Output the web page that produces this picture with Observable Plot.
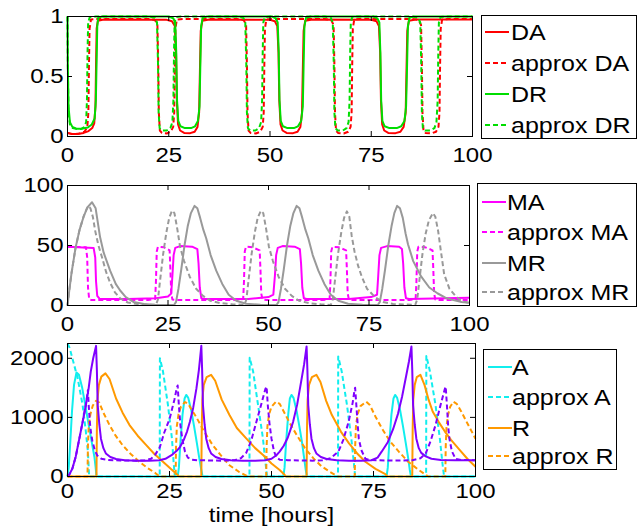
<!DOCTYPE html>
<html><head><meta charset="utf-8">
<script src="https://cdn.jsdelivr.net/npm/d3@7"></script>
<script src="https://cdn.jsdelivr.net/npm/@observablehq/plot@0.6"></script>
<style>
body{margin:0;background:#fff;}
#wrap{position:relative;width:638px;height:527px;overflow:hidden;background:#fff;font-family:"Liberation Sans",Arial,Helvetica,sans-serif;}
.panel{position:absolute;left:0;}
.legend{position:absolute;border:1px solid #000;background:#fff;box-sizing:border-box;}
.item{position:absolute;white-space:nowrap;font-size:25px;line-height:30px;height:30px;color:#000;}
.item span{display:inline-block;transform:scaleY(0.86);transform-origin:50% 50%;}
.sw{position:absolute;height:2px;width:24px;}
</style></head><body><div id="wrap"></div>
<script>
// ---------- tick labels ----------
const xTicks = [0,25,50,75,100];
const dTicks = [0,0.5,1];
const mTicks = [0,50,100];
const pTicks = [0,1000,2000];

// ---------- legend labels ----------
const legend1 = ["DA","approx DA","DR","approx DR"];
const legend2 = ["MA","approx MA","MR","approx MR"];
const legend3 = ["A","approx A","R","approx R"];

// ---------- panel 1 : DA, DR ----------
const DA = [[0,0.03],[1,0.02],[2.5,0.02],[4,0.03],[5.2,0.045],[6.1,0.07],[6.6,0.11],[6.9,0.25],[7.05,0.6],[7.2,0.9],[7.5,0.965],[9,0.975],
[24.5,0.972],[25.8,0.96],[26.5,0.92],[26.8,0.7],[27,0.3],[27.3,0.1],[27.8,0.05],[28.8,0.03],[30.3,0.028],[31.4,0.04],[32.1,0.08],[32.5,0.2],[32.7,0.55],[32.9,0.88],[33.3,0.965],[35,0.975],
[50,0.972],[51.2,0.96],[51.8,0.92],[52.1,0.7],[52.3,0.3],[52.6,0.1],[53.1,0.05],[54.1,0.03],[55.7,0.028],[56.8,0.04],[57.5,0.08],[57.9,0.2],[58.1,0.55],[58.3,0.88],[58.7,0.965],[60.5,0.975],
[75,0.972],[76.3,0.96],[76.9,0.92],[77.2,0.7],[77.4,0.3],[77.7,0.1],[78.2,0.05],[79.2,0.03],[81,0.028],[82.2,0.04],[83,0.08],[83.5,0.2],[83.7,0.55],[83.9,0.88],[84.3,0.965],[86,0.975],[100,0.975]];
const DA_approx = [[0,0.03],[1.5,0.02],[3,0.025],[4.2,0.04],[4.9,0.08],[5.15,0.2],[5.3,0.6],[5.45,0.9],[5.8,0.975],[7,0.98],
[20,0.98],[21.6,0.97],[22.2,0.93],[22.4,0.6],[22.55,0.2],[22.8,0.05],[23.3,0.03],[24.5,0.025],[25.5,0.04],[26.1,0.08],[26.35,0.2],[26.5,0.6],[26.65,0.9],[27,0.975],[28.5,0.98],
[41.8,0.98],[43.5,0.97],[44.1,0.93],[44.3,0.6],[44.45,0.2],[44.7,0.05],[45.2,0.03],[46.5,0.025],[47.6,0.04],[48.2,0.08],[48.45,0.2],[48.6,0.6],[48.75,0.9],[49.1,0.975],[50.5,0.98],
[63.5,0.98],[65.1,0.97],[65.7,0.93],[65.9,0.6],[66.05,0.2],[66.3,0.05],[66.8,0.03],[68.2,0.025],[69.3,0.04],[69.9,0.08],[70.15,0.2],[70.3,0.6],[70.45,0.9],[70.8,0.975],[72,0.98],
[85,0.98],[86.7,0.97],[87.3,0.93],[87.5,0.6],[87.65,0.2],[87.9,0.05],[88.4,0.03],[89.8,0.025],[91,0.04],[91.6,0.08],[91.85,0.2],[92,0.6],[92.15,0.9],[92.5,0.975],[94,0.98],[100,0.98]];
const DR = [[0,1],[0.08,0.6],[0.25,0.25],[0.6,0.12],[1.2,0.08],[2.2,0.065],[3.5,0.065],[5,0.075],[6,0.1],[6.7,0.15],[7,0.3],[7.2,0.65],[7.35,0.92],[7.6,0.99],[8.5,1],
[25,1],[26.1,0.985],[26.6,0.95],[26.85,0.7],[27.05,0.3],[27.35,0.13],[27.9,0.085],[29,0.07],[30.5,0.07],[31.5,0.085],[32.2,0.13],[32.6,0.25],[32.8,0.6],[33,0.92],[33.4,0.99],[34.5,1],
[50.5,1],[51.4,0.985],[51.9,0.95],[52.15,0.7],[52.35,0.3],[52.65,0.13],[53.2,0.085],[54.3,0.07],[55.9,0.07],[56.9,0.085],[57.7,0.13],[58.1,0.25],[58.3,0.6],[58.5,0.92],[58.9,0.99],[60,1],
[75.5,1],[76.5,0.985],[77,0.95],[77.25,0.7],[77.45,0.3],[77.75,0.13],[78.3,0.085],[79.5,0.07],[81.3,0.07],[82.4,0.085],[83.2,0.13],[83.6,0.25],[83.85,0.6],[84.05,0.92],[84.45,0.99],[85.5,1],[100,1]];
const DR_approx = [[0,1],[0.08,0.6],[0.25,0.2],[0.6,0.1],[1.3,0.07],[2.5,0.06],[3.5,0.065],[4.2,0.08],[4.6,0.12],[4.8,0.3],[4.95,0.7],[5.1,0.95],[5.5,0.995],[7,1],
[20,1],[21.6,0.99],[22.1,0.95],[22.35,0.6],[22.5,0.2],[22.75,0.07],[23.3,0.05],[24.5,0.05],[25.4,0.07],[25.9,0.12],[26.15,0.3],[26.3,0.7],[26.45,0.95],[26.8,0.995],[28,1],
[41.8,1],[43.4,0.99],[43.9,0.95],[44.15,0.6],[44.3,0.2],[44.55,0.07],[45.1,0.05],[46.4,0.05],[47.3,0.07],[47.8,0.12],[48.05,0.3],[48.2,0.7],[48.35,0.95],[48.7,0.995],[50,1],
[63.5,1],[65,0.99],[65.5,0.95],[65.75,0.6],[65.9,0.2],[66.15,0.07],[66.7,0.05],[68,0.05],[68.9,0.07],[69.4,0.12],[69.65,0.3],[69.8,0.7],[69.95,0.95],[70.3,0.995],[71.5,1],
[85,1],[86.6,0.99],[87.1,0.95],[87.35,0.6],[87.5,0.2],[87.75,0.07],[88.3,0.05],[89.6,0.05],[90.6,0.07],[91.1,0.12],[91.4,0.3],[91.55,0.7],[91.7,0.95],[92.1,0.995],[93.5,1],[100,1]];

// ---------- panel 2 : MA, MR ----------
const MA = [[0,49],[6.5,48],[6.9,40],[7.1,20],[7.4,8],[8,5.5],[15,5.5],[22,6],[25,7.5],[25.8,10],[26.1,25],[26.4,42],[26.8,48],[28,49.5],[31,49],[32.3,47],[32.6,35],[32.9,15],[33.3,6],[34,5.5],
[45,5.5],[50,7],[51.2,9],[51.6,25],[51.9,42],[52.3,48],[53.5,49.5],[56.5,49],[57.8,47],[58.1,35],[58.4,15],[58.8,6],[59.5,5.5],
[70,5.5],[75.5,7],[77,9],[77.3,25],[77.6,42],[78,48],[79.5,49.5],[82.5,49],[83.2,47],[83.5,35],[83.8,15],[84.2,6],[85,5.5],[100,6.5]];
const MA_approx = [[0,49],[4.6,48.5],[4.9,40],[5.1,15],[5.4,5],[6,4.5],[20,4.5],[21.8,5.5],[22,20],[22.2,45],[22.5,49],[24,48.5],[25.4,46],[25.6,30],[25.8,10],[26.1,5],[27,4.5],
[42,4.5],[43.7,5.5],[43.9,20],[44.1,45],[44.4,49],[46,48.5],[47.8,46],[48,30],[48.2,10],[48.5,5],[49.5,4.5],
[63.5,4.5],[65.2,5.5],[65.4,20],[65.6,45],[65.9,49],[67.5,48.5],[69.3,46],[69.5,30],[69.7,10],[70,5],[71,4.5],
[85,4.5],[86.6,5.5],[86.8,20],[87,45],[87.3,49],[89,48.5],[90.8,46],[91,30],[91.2,10],[91.5,5],[92.5,4.5],[100,4.5]];
const MR = [[0,0],[0.5,14],[1,27],[2,48],[3,63],[4,74],[5,82],[6.1,86],[7,81],[8.1,57],[9,44],[10.6,29],[12,18],[13.1,12.5],[14.5,7],[16.4,3],[19,1.2],[22,0.5],[26.5,0.4],
[27,3],[27.6,14],[28.3,30],[29.1,50],[29.9,66],[30.7,77],[31.6,83],[32.3,81],[33,73],[33.8,63],[34.5,56],[35.6,42],[37,29],[38.5,18],[40.1,9],[42,4],[44.4,1.5],[48,0.6],[52,0.4],
[52.5,3],[53.1,14],[53.8,30],[54.6,50],[55.4,66],[56.2,77],[57,83],[57.7,81],[58.4,73],[59.2,63],[59.9,56],[61,42],[62.4,29],[63.9,18],[65.5,9],[67.4,4],[69.8,1.5],[73.4,0.6],[77.2,0.4],
[77.7,3],[78.3,14],[79,30],[79.8,50],[80.6,66],[81.3,77],[82,83],[82.7,81],[83.4,73],[84.1,60],[84.7,51],[86,37],[88,24],[90,15],[92.1,10],[94,6.5],[96,4.5],[98,3],[100,2.2]];
const MR_approx = [[0,0],[0.5,14],[1,27],[2,48],[3,63],[4,74],[4.7,80],[5.2,83],[5.7,81],[6.3,74],[6.9,62],[7.7,50],[8.6,40],[9.6,28],[10.6,19],[11.8,11],[13.1,6],[15,2.5],[18,1],[22,0.5],
[22.5,5],[23,20],[23.8,43],[24.6,61],[25.3,73],[26,79],[26.6,77],[27.3,64],[28,49],[29,37],[30.4,24],[32,14],[33.7,8],[35.5,4],[38,2],[41,1],[44,0.5],
[44.5,5],[45,20],[45.8,43],[46.6,61],[47.3,73],[48.1,79],[48.7,77],[49.4,64],[50.1,49],[51.1,37],[52.5,24],[54.1,14],[55.8,8],[57.6,4],[60,2],[63,1],[65.5,0.5],
[66,5],[66.5,20],[67.3,43],[68.1,61],[68.8,73],[69.5,78.5],[70.1,74],[70.7,58],[71.4,45],[72.3,33],[73.2,24],[74.5,14],[76.5,7],[78.5,3],[81,1.2],[86.5,0.5],
[87,5],[87.5,20],[88.3,43],[89.1,60],[89.9,71],[90.9,77],[91.5,74],[92.2,62],[92.9,45],[93.7,26],[95,14],[96.5,8],[97.9,4],[100,2]];

// ---------- panel 3 : A, R, C ----------
const A = [[0,0],[0.3,150],[0.7,600],[1.1,1100],[1.6,1550],[2.2,1760],[2.8,1720],[3.6,1500],[4.5,1150],[5.3,830],[6,560],[6.6,330],[6.9,150],[7.1,0],
[27,0],[27.3,150],[27.7,600],[28.2,1050],[28.7,1320],[29.1,1380],[29.6,1330],[30.3,1130],[31,860],[31.7,570],[32.3,310],[32.8,110],[33.1,0],
[52.9,0],[53.2,150],[53.6,600],[54.1,1050],[54.5,1320],[54.9,1380],[55.4,1330],[56.1,1130],[56.8,860],[57.5,570],[58,310],[58.4,110],[58.7,0],
[78.2,0],[78.5,150],[78.9,600],[79.4,1050],[79.9,1320],[80.3,1380],[80.8,1330],[81.5,1130],[82.2,860],[82.9,570],[83.5,310],[83.9,110],[84.2,0],[100,0]];
const A_approx = [[0,2250],[0.5,2180],[1.2,2000],[2.5,1660],[3.7,1210],[4.5,760],[5,420],[5.2,150],[5.3,0],
[22.6,0],[22.65,2000],[23.4,1780],[24.6,1220],[25.6,640],[26,250],[26.3,0],
[44.6,0],[44.65,2010],[45.5,1775],[46.7,1210],[47.9,645],[48.5,250],[48.9,0],
[66.3,0],[66.35,2030],[67.2,1780],[68.5,1210],[69.6,620],[70.2,220],[70.5,0],
[87.9,0],[87.95,2040],[88.8,1790],[90.2,1210],[91.3,620],[91.9,220],[92.3,0],[100,0]];
const R = [[0,0],[7.1,0],[7.2,800],[7.35,1300],[7.7,1550],[8.3,1690],[9.3,1745],[10.3,1650],[11.9,1320],[13.5,1080],[15.2,870],[17.2,690],[19.3,530],[21.3,380],[23.4,250],[25.3,130],[26.8,40],[27.3,0],
[32.8,0],[32.9,800],[33.05,1300],[33.4,1550],[34.1,1680],[35.2,1720],[36.2,1620],[37.8,1300],[39.7,1040],[41.5,820],[43.8,645],[46,480],[48,360],[50,220],[52,110],[53.2,30],[53.5,0],
[58.6,0],[58.7,800],[58.85,1300],[59.2,1550],[59.9,1680],[61,1720],[62,1600],[63.4,1280],[64.8,1040],[67,760],[69,560],[71,390],[73,250],[75.5,130],[77.9,40],[78.4,0],
[84.5,0],[84.6,800],[84.75,1300],[85.1,1550],[85.6,1680],[86.5,1720],[87.5,1550],[88.5,1300],[89.5,1100],[91,920],[92.5,760],[94,620],[96,460],[98,300],[100,165]];
const R_approx = [[0,0],[4.9,0],[5,500],[5.2,850],[5.6,1050],[6.2,1200],[7,1280],[7.8,1250],[8.8,1080],[10.3,870],[11.8,690],[13.5,530],[15.5,380],[17.6,250],[19.7,140],[21.5,60],[22.6,0],
[26.5,0],[26.6,500],[26.8,850],[27.2,1050],[27.8,1180],[28.8,1260],[29.6,1230],[30.5,1120],[31.6,1000],[33.5,760],[35.6,530],[37.7,350],[39.7,190],[42,80],[44.3,0],
[48.7,0],[48.8,500],[49,850],[49.4,1050],[50,1180],[51.1,1265],[52,1230],[53,1100],[54.5,900],[56.2,700],[58.2,480],[60.3,305],[62.3,170],[64.4,75],[66.3,0],
[70.4,0],[70.5,500],[70.7,850],[71.1,1050],[71.8,1190],[73.2,1265],[74.1,1210],[75.5,1010],[77.1,810],[79,600],[81.2,420],[83.5,250],[86.1,110],[88,20],[88.4,0],
[92.6,0],[92.7,500],[92.9,850],[93.3,1050],[93.8,1180],[94.6,1265],[95.4,1230],[96.5,1100],[98,900],[100,640]];
const C = [[0,0],[0.5,40],[1.2,135],[2,330],[2.9,640],[3.7,920],[4.5,1210],[5.2,1500],[5.7,1775],[6.3,2000],[7,2210],[7.2,1800],[7.4,1210],[7.8,880],[8.2,640],[8.8,480],[9.4,390],[10.5,330],[11.9,295],[14,275],[17,265],[20,265],[22.5,275],[24,300],[25.5,360],[26.7,430],[27.5,490],[28.5,620],[29.3,760],[30,925],[30.8,1160],[31.6,1490],[32.2,1800],[32.8,2210],
[33,1800],[33.2,1210],[33.6,880],[34,640],[34.6,480],[35.2,390],[36.3,330],[37.7,295],[40,275],[43,265],[46,265],[48.5,275],[50,300],[51.2,360],[52,420],[53,520],[54,660],[55.3,925],[56.3,1220],[57.4,1660],[58,1900],[58.6,2200],
[58.8,1800],[59,1210],[59.4,880],[59.8,640],[60.4,480],[61,390],[62.1,330],[63.5,295],[66,275],[69,265],[72,265],[74.5,275],[76,320],[77,420],[78.5,580],[79.8,800],[81,1060],[82,1350],[83,1700],[83.7,1950],[84.3,2200],
[84.5,1800],[84.7,1210],[85.1,880],[85.5,640],[86.1,480],[86.7,400],[87.8,340],[89.2,300],[91.5,280],[95,275],[100,275]];
const C_approx = [[0,0],[0.5,40],[1.2,135],[2,330],[2.9,640],[3.7,920],[4.5,1210],[5,1460],[5.2,1200],[5.5,900],[5.8,720],[6.1,600],[6.7,440],[7.3,355],[8.3,300],[10,280],[13,270],[17,268],[19,275],[20.5,300],[21.5,370],[22.6,490],[23.7,740],[25,970],[26.2,1300],[26.8,1500],[27,1540],[27.3,1200],[27.7,850],[28.2,610],[28.8,420],[29.5,320],[30.5,285],[32,275],[38,268],
[41,275],[42.5,310],[43.8,400],[45,600],[46.3,925],[47.6,1250],[48.5,1480],[48.8,1520],[49.1,1200],[49.5,900],[50,640],[50.6,430],[51.2,320],[52,285],[54,275],[60,268],
[62.5,275],[64.5,310],[66.4,420],[67.6,620],[68.9,925],[69.9,1250],[70.3,1440],[70.5,1500],[70.8,1200],[71.1,900],[71.4,640],[72,450],[73,300],[74,280],[80,268],
[84.5,275],[86.5,310],[87.8,390],[89,600],[90.2,870],[91.4,1200],[92.4,1460],[92.7,1520],[93,1200],[93.3,850],[93.6,640],[94.2,430],[95.1,300],[96.5,280],[100,275]];

// ---------- colours ----------
const red = "#ff0000", green = "#00dd00", magenta = "#ff00ff", gray = "#999999",
      cyan = "#11eeee", orange = "#ff9900", purple = "#8000ff";

const FONT = '"Liberation Sans", Arial, Helvetica, sans-serif';
const wrap = document.getElementById("wrap");

function makePanel({series, yDomain, yTicks, top, height, mTop, mBottom, mRight, xPad, extra = []}) {
  const W = 638, mLeft = 67;
  const frameH = height - mTop - mBottom;
  const frameW = W - mLeft - mRight;
  const lineMarks = series.map(s => {
    const o = {x: d => d[0], y: d => d[1], stroke: s.color, strokeWidth: 2, strokeLinecap: "butt", strokeLinejoin: "round"};
    if (s.dash) o.strokeDasharray = "5,3";
    return Plot.line(s.data, o);
  });
  const svg = Plot.plot({
    width: W, height, marginLeft: mLeft, marginRight: mRight, marginTop: mTop, marginBottom: mBottom,
    x: {domain: [0, 100]},
    y: {domain: yDomain},
    style: {fontSize: "24px", fontFamily: FONT, color: "#000", background: "transparent", overflow: "visible"},
    marks: [
      ...lineMarks,
      Plot.frame({stroke: "#000", strokeWidth: 1}),
      Plot.tickX(xTicks, {x: d => d, insetTop: frameH - 5, stroke: "#000"}),
      Plot.tickX(xTicks, {x: d => d, insetBottom: frameH - 5, stroke: "#000"}),
      Plot.tickY(yTicks, {y: d => d, insetRight: frameW - 5, stroke: "#000"}),
      Plot.tickY(yTicks, {y: d => d, insetLeft: frameW - 5, stroke: "#000"}),
      Plot.axisX({ticks: xTicks, tickSize: 0, tickPadding: xPad, label: null, tickFormat: d => String(d)}),
      Plot.axisY({ticks: yTicks, tickSize: 0, tickPadding: 4, label: null, tickFormat: d => String(d)}),
      ...extra
    ]
  });
  // slightly flatten text glyphs as in the reference rendering
  svg.querySelectorAll("text").forEach(t => {
    const tr = t.getAttribute("transform");
    if (tr && tr.includes("translate")) t.setAttribute("transform", tr + " scale(1,0.86)");
  });
  const div = document.createElement("div");
  div.className = "panel";
  div.style.top = top + "px";
  div.appendChild(svg);
  wrap.appendChild(div);
}

function makeLegend({labels, colors, dashes, left, top, width, height, rows, swX, txX}) {
  const box = document.createElement("div");
  box.className = "legend";
  Object.assign(box.style, {left: left + "px", top: top + "px", width: width + "px", height: height + "px"});
  wrap.appendChild(box);
  labels.forEach((lab, i) => {
    const cy = rows[i];
    const sw = document.createElement("div");
    sw.className = "sw";
    sw.style.left = swX + "px";
    sw.style.top = (cy - 1) + "px";
    sw.style.background = dashes[i]
      ? `repeating-linear-gradient(90deg, ${colors[i]} 0 5px, transparent 5px 8px)`
      : colors[i];
    wrap.appendChild(sw);
    const it = document.createElement("div");
    it.className = "item";
    it.style.left = txX + "px";
    it.style.top = (cy - 15) + "px";
    const sp = document.createElement("span");
    sp.textContent = lab;
    it.appendChild(sp);
    wrap.appendChild(it);
  });
}

// panel 1
makePanel({
  series: [
    {data: DA, color: red}, {data: DA_approx, color: red, dash: true},
    {data: DR, color: green}, {data: DR_approx, color: green, dash: true}
  ],
  yDomain: [0, 1], yTicks: dTicks, top: 0, height: 170, mTop: 16, mBottom: 34, mRight: 166, xPad: 11
});
// panel 2
makePanel({
  series: [
    {data: MA, color: magenta}, {data: MA_approx, color: magenta, dash: true},
    {data: MR, color: gray}, {data: MR_approx, color: gray, dash: true}
  ],
  yDomain: [0, 100], yTicks: mTicks, top: 170, height: 169, mTop: 15, mBottom: 34, mRight: 169, xPad: 11
});
// panel 3
makePanel({
  series: [
    {data: A, color: cyan}, {data: A_approx, color: cyan, dash: true},
    {data: R, color: orange}, {data: R_approx, color: orange, dash: true},
    {data: C, color: purple}, {data: C_approx, color: purple, dash: true}
  ],
  yDomain: [0, 2250], yTicks: pTicks, top: 330, height: 197, mTop: 13, mBottom: 51, mRight: 163, xPad: 7,
  extra: [Plot.text(["time [hours]"], {frameAnchor: "bottom", dy: 39, lineAnchor: "middle", fontSize: 24, fill: "#000"})]
});

makeLegend({labels: legend1, colors: [red, red, green, green], dashes: [false, true, false, true],
  left: 481, top: 15, width: 156, height: 124, rows: [32, 63, 94, 124.5], swX: 485, txX: 511});
makeLegend({labels: legend2, colors: [magenta, magenta, gray, gray], dashes: [false, true, false, true],
  left: 477, top: 183, width: 160, height: 124, rows: [202, 232, 263, 292], swX: 482, txX: 507});
makeLegend({labels: legend3, colors: [cyan, cyan, orange, orange], dashes: [false, true, false, true],
  left: 483, top: 349, width: 134, height: 121, rows: [367, 397, 428, 456], swX: 488, txX: 512});
</script></body></html>
